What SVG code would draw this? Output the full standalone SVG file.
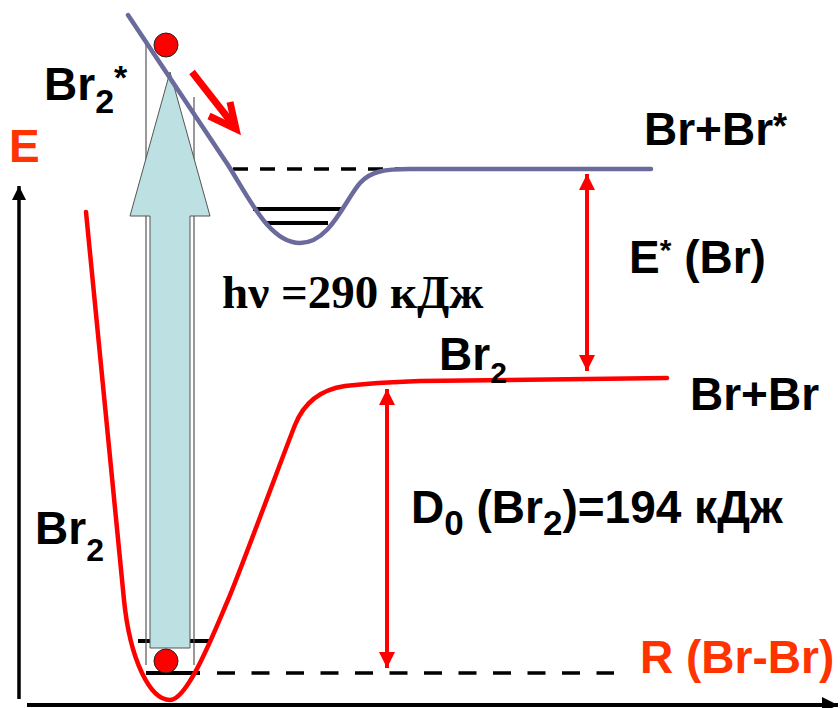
<svg xmlns="http://www.w3.org/2000/svg" width="840" height="708" viewBox="0 0 840 708">
<style>
.lbl{font-family:"Liberation Sans",Arial,sans-serif;font-weight:bold;font-size:46px;fill:#000}
.ax{font-family:"Liberation Sans",Arial,sans-serif;font-weight:bold;font-size:46px;fill:#ff3300}
.hv{font-family:"Liberation Serif","Times New Roman",serif;font-weight:bold;font-size:47px;fill:#000}
.red{fill:none;stroke:#ff0000;stroke-width:4.5;stroke-linecap:round}
.blue{fill:none;stroke:#6a6a9c;stroke-width:4.5;stroke-linecap:round}
.lev{stroke:#000;stroke-width:4;fill:none}
.dash{stroke:#000;stroke-width:3.5;fill:none}
.frame{stroke:#555;stroke-width:1.2;fill:none}
.dim{stroke:#ff0000;stroke-width:4;fill:none}
</style>
<defs>
<marker id="ah" viewBox="0 0 10 10" refX="10" refY="5" markerWidth="4" markerHeight="4" orient="auto-start-reverse" markerUnits="strokeWidth">
<path d="M0,0 L10,5 L0,10 z" fill="#ff0000"/>
</marker>
<marker id="axh" viewBox="0 0 10 10" refX="10" refY="5" markerWidth="4" markerHeight="4" orient="auto" markerUnits="strokeWidth">
<path d="M0,0 L10,5 L0,10 z" fill="#000"/>
</marker>
</defs>
<rect width="840" height="708" fill="#fff"/>

<g id="axes">
<line x1="19" y1="699" x2="19" y2="186" stroke="#000" stroke-width="3.5" marker-end="url(#axh)"/>
<line x1="27" y1="705" x2="838" y2="705" stroke="#000" stroke-width="4" marker-end="url(#axh)"/>
</g>

<g id="levels">
<line class="lev" x1="138" y1="641" x2="209" y2="641"/>
<line class="lev" x1="146" y1="673" x2="200" y2="673"/>
<line class="dash" x1="217" y1="673" x2="614" y2="673" stroke-dasharray="18 16.5"/>
<line class="dash" x1="233" y1="169" x2="405" y2="169" stroke-dasharray="15 12"/>
<line class="lev" x1="253" y1="209" x2="343" y2="209"/>
<line class="lev" x1="267" y1="223" x2="328" y2="223"/>
</g>

<g id="photon">
<line class="frame" x1="146" y1="44" x2="146" y2="665"/>
<line class="frame" x1="194" y1="97" x2="194" y2="665"/>
<polygon points="170,72 210,216 190,216 190,648 150,648 150,216 130,216" fill="#bde0e3" stroke="#555" stroke-width="1"/>
</g>

<g id="ground-curve">
<path class="red" d="M86,212 L124,600 C130,660 150,700 170,700 C188,700 215,630 228,600 C240,572 285,450 295,425 C303,405 318,390 345,386 C370,383 390,382 420,381 L667,378"/>
</g>

<g id="excited-curve">
<path class="blue" d="M128,15 L228,165 C250,200 270,243 300,243 C330,243 345,200 360,183 C371,171 385,169 410,169 L651,169"/>
</g>

<g id="connectors">
<line class="dim" x1="587" y1="174" x2="587" y2="371" marker-start="url(#ah)" marker-end="url(#ah)"/>
<line class="dim" x1="387" y1="389" x2="387" y2="668" marker-start="url(#ah)" marker-end="url(#ah)"/>
<g stroke="#ff0000" stroke-width="7" fill="none">
<line x1="192" y1="72" x2="235" y2="127"/>
<polyline points="209,116 236,129 230,102" stroke-linejoin="miter"/>
</g>
</g>

<g id="molecules">
<circle cx="166" cy="45" r="12" fill="#ff0000" stroke="#222" stroke-width="1"/>
<circle cx="166" cy="661" r="12" fill="#ff0000" stroke="#222" stroke-width="1"/>
</g>

<g id="labels">
<text class="ax" x="9" y="162">E</text>
<text class="ax" x="640" y="673">R (Br-Br)</text>
<text class="lbl" x="44" y="100" font-size="44">Br<tspan font-size="34" dy="13">2</tspan><tspan font-size="34" dy="-24">*</tspan></text>
<text class="lbl" x="644" y="145">Br+Br<tspan font-size="36" dy="-6">*</tspan></text>
<text class="lbl" x="629" y="273">E<tspan font-size="30" dy="-13.5">*</tspan><tspan dy="13.5"> (Br)</tspan></text>
<text class="lbl" x="690" y="410" font-size="48">Br+Br</text>
<text class="hv" x="222" y="308">hν =290 кДж</text>
<text class="lbl" x="439" y="370" font-size="44">Br<tspan font-size="30" dy="13">2</tspan></text>
<text class="lbl" x="35" y="544" font-size="44">Br<tspan font-size="32" dy="17">2</tspan></text>
<text class="lbl" x="411" y="523" font-size="53">D<tspan font-size="35" dy="12">0</tspan><tspan dy="-12"> (Br</tspan><tspan font-size="35" dy="12">2</tspan><tspan dy="-12">)=194 кДж</tspan></text>
</g>
</svg>
